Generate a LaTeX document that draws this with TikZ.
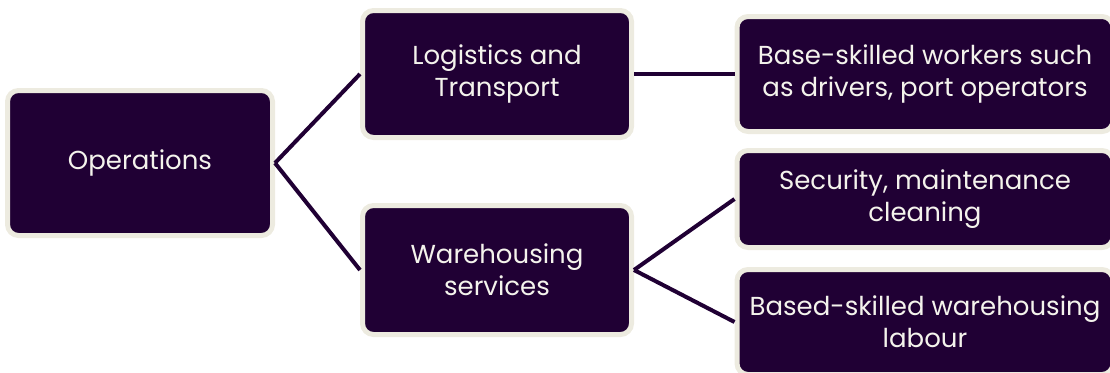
\documentclass[tikz,border=0pt]{standalone}
\usepackage{fontspec}
\setmainfont{Poppins}
\usepackage{tikz}
\usetikzlibrary{positioning}

\definecolor{plum}{HTML}{200034}
\definecolor{cream}{HTML}{EDEBE0}

\begin{document}
\begin{tikzpicture}[x=1pt, y=-1pt,
    box/.style={draw=cream, line width=5pt, fill=plum, rounded corners=11pt,
      text=cream!60!white, align=center, font=\fontsize{26}{32}\selectfont,
      inner sep=0pt},
    link/.style={draw=plum, line width=4pt}]
    \useasboundingbox (0,0) rectangle (1110,372);
    \clip (0,0) rectangle (1110,372);
    % Left box
    \node[box, minimum width=265pt, minimum height=145pt] (ops) at (140,163) {Operations};
    % Middle boxes
    \node[box, minimum width=269pt, minimum height=127pt] (log) at (497,74) {Logistics and\\Transport};
    \node[box, minimum width=269pt, minimum height=129pt] (ware) at (497,270) {Warehousing\\services};
    % Right boxes
    \node[box, minimum width=376pt, minimum height=115pt] (base) at (925,74) {Base-skilled workers such\\as drivers, port operators};
    \node[box, minimum width=376pt, minimum height=97pt] (sec) at (925,199) {Security, maintenance\\cleaning};
    \node[box, minimum width=376pt, minimum height=105pt] (lab) at (925,322) {Based-skilled warehousing\\labour};
    % Links
    \draw[link] (ops.east) -- (log.west);
    \draw[link] (ops.east) -- (ware.west);
    \draw[link] (log.east) -- (base.west);
    \draw[link] (ware.east) -- (sec.west);
    \draw[link] (ware.east) -- (lab.west);
\end{tikzpicture}
\end{document}
